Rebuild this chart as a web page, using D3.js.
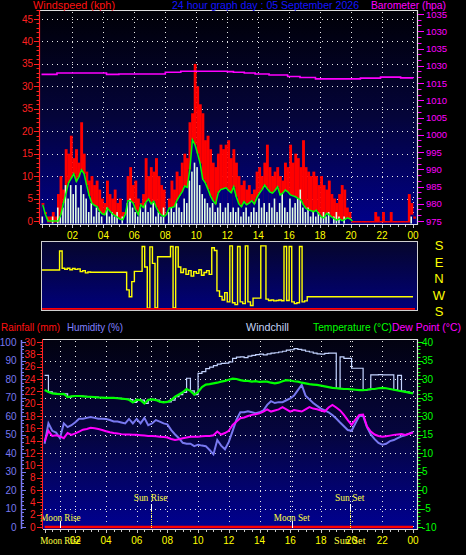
<!DOCTYPE html>
<html><head><meta charset="utf-8">
<script src="https://cdn.jsdelivr.net/npm/d3@7"></script>
<style>body{margin:0;background:#000;}svg{display:block;}</style>
</head><body><svg width="466" height="555"></svg>
<script>
// ---------- DATA ----------
const hourTickValues = [2,4,6,8,10,12,14,16,18,20,22,24];
const hourLabels = ["02","04","06","08","10","12","14","16","18","20","22","00"];
const windTickValues = [0,5,10,15,20,25,30,35,40,45];
const windTickLabels = ["0","5","10","15","20","35","30","35","40","45"];
const baroTickValues = [975,980,985,990,995,1000,1005,1010,1015,1020,1025,1030,1035];
const baroTickLabels = ["975","980","985","990","995","1000","1005","1010","1015","1030","1035","1030","1035"];
const rainTickValues = [0,2,4,6,8,10,12,14,16,18,20,22,24,26,28,30];
const rainTickLabels = ["0","2","4","6","8","10","12","14","16","18","20","22","24","26","38","30"];
const humTickValues = [0,10,20,30,40,50,60,70,80,90,100];
const tempTickValues = [-10,-5,0,5,10,15,20,25,30,35,40];
const tempTickLabels = ["-10","-5","0","5","10","15","30","35","30","35","40"];
const dirLabels = ["S","E","N","W","S"];
const dirLabelPos = [0,90,180,270,360];

// wind, 10-minute samples (kph)
const gust = [4,2,1,1,2,1, 6,10,7,16,15,19, 14,16,13,22,15,11, 9,10,8,9,7,5, 4,9,6,5,7,4,
  5,2,2,10,12,8, 9,5,4,6,14,10, 12,11,14,10,8,7, 1,5,9,7,11,10, 13,15,14,22,24,35,
  30,26,24,18,19,16, 13,12,15,17,16,17, 18,14,16,13,10,8, 9,7,8,6,7,11, 12,10,13,17,12,10,
  11,12,10,9,13,12, 17,13,15,14,12,18, 12,11,10,11,10,8, 10,8,7,9,6,5, 4,6,8,7,3,2,
  0,0,0,0,0,0, 0,0,0,2,1,0, 2,0,0,2,0,0, 0,0,0,0,6,4, 1];
const speed = [1,0,0,0,1,0, 3,1,3,8,5,8, 6,8,3,8,6,5, 2,4,1,3,2,1, 0,3,1,2,1,2,
  0,1,0,4,5,3, 2,1,3,2,4,2, 3,4,1,2,1,3, 0,2,3,2,4,3, 2,5,4,9,11,13,
  12,8,6,5,4,3, 4,2,3,4,2,3, 4,2,3,2,3,1, 2,3,1,2,3,2, 5,3,4,2,4,3,
  5,2,4,6,3,2, 5,3,4,5,7,3, 2,3,1,2,1,2, 1,2,1,2,0,1, 2,1,0,1,0,0,
  0,0,0,0,0,0, 0,0,0,0,0,0, 0,0,0,0,0,0, 0,0,0,0,0,1, 0];
const avgSpeed = [3.6,1.5,0,0,0,0, 0,1.4,4,6.2,8.5,9.5, 10.5,8.8,9.8,11.4,10.5,8, 5.6,4,3.5,3.2,2.2,1.6, 1.4,2.9,2.2,1.6,1.2,0.8,
  0.4,0.3,1.5,4.5,4.5,4, 2.5,1.4,3.6,3,4.2,4.9, 3.8,4.4,3,1.9,1.3,1.0, 1.5,2.9,3.0,3.2,4.6,5.6, 6.5,7.8,7.5,11.5,18.1,17,
  15,12.8,9.3,8.5,7.1,5.6, 4.5,3.8,6.3,7,7.2,7.4, 6.8,6.3,7.6,5.4,3.8,3.2, 4.3,3.6,4.0,4.5,3.8,5.2, 6.2,7.0,8.0,7.2,6.5,6.2,
  6.8,7.6,5.8,6.2,6.9,6.5, 5.8,5.6,5.4,5.0,4.7,3.6, 2.8,2.5,2.3,2.1,2.4,1.6, 0.9,0.7,1.7,1.4,0.9,0.5, 0.2,0.5,0.1,0.3,0.7,0.5,
  0,0,0,0,0,0, 0,0,0,0,0,0, 0,0,0,0,0,0, 0,0,0,0,0,1.4, 0.5];
// wind direction, 10-minute samples (degrees)
const windDir = [44,44,44,44,44,44, 44,147,53,48,53,45, 52,47,50,35,40,28, 33,31,31,31,31,31, 31,31,31,31,31,31,
  31,31,31,295,258,340, 36,36,36,172,60,195, 170,80,196,116,116,116, 116,116,172,196,170,60, 30,50,20,40,10,35,
  25,45,15,30,40,20, 165,150,290,260,240,280, 230,175,225,215,172,230, 220,175,230,210,250,250, 250,175,175,245,237,240,
  235,237,240,236,172,237, 172,230,220,225,172,230, 235,258,258,258,258,258, 258,258,258,258,258,258, 258,258,258,258,258,258,
  258,258,258,258,258,258, 258,258,258,258,258,258, 258,258,258,258,258,258, 258,258,258,258,258,258, 258];
// barometer (hPa)
const baroHours = [0,1,3,4.2,5,7,8,9,10,11,12,12.4,13.1,13.8,14.7,15.9,16.7,17.7,19.3,20.6,21.9,23.2,24];
const baroValues = [1017.5,1017.9,1017.9,1017.5,1017.6,1017.6,1018.1,1018.4,1018.4,1018.4,1018.3,1018.1,1017.9,1017.6,1017.3,1016.9,1016.6,1016.2,1016.2,1016.4,1016.7,1016.5,1016.4];

// bottom panel, 15-minute samples
const temperature = [27.0,26.5,26.1,26.0, 25.9,26.0,25.1,25.3, 25.4,25.4,25.3,25.2, 25.2,25.1,25.0,24.95, 24.9,24.9,24.9,24.8,
  24.7,24.6,24.4,23.7, 24.4,24.3,23.4,24.4, 24.5,24.3,23.9,23.7, 23.8,24.3,25.2,25.8, 26.4,27.3,26.8,25.8,
  26.5,27.8,28.5,28.6, 28.8,29.0,29.3,29.5, 29.8,30.1,30.0,29.7, 29.5,29.5,29.3,29.4, 29.2,29.3,29.3,29.0,
  28.8,29.0,29.4,29.7, 29.6,29.4,29.3,29.0, 28.8,28.6,28.5,28.4, 28.2,28.0,27.8,27.6, 27.5,27.4,27.3,27.3,
  27.2,27.1,27.0,27.0, 27.1,27.3,27.3,27.5, 27.6,27.5,27.3,27.1, 26.9,26.7,26.5,26.3, 26.1];
const windchill = [31.0,26.5,26.1,26.0, 25.9,26.0,25.1,25.3, 25.4,25.4,25.3,25.2, 25.2,25.1,25.0,24.95, 24.9,24.9,24.9,24.8,
  24.7,24.6,24.4,23.7, 24.4,24.3,23.4,24.4, 24.5,24.3,23.9,23.7, 23.8,24.3,25.2,25.8, 26.4,30.2,26.8,25.8,
  31.5,32.0,32.8,33.2, 33.6,34.0,34.2,34.3, 34.6,35.6,35.9,36.0, 35.8,36.2,36.4,36.6, 36.7,36.5,36.8,37.0,
  37.1,37.3,37.5,37.8, 37.9,38.2,38.0,37.8, 37.5,37.3,37.0,36.8, 36.7,36.9,37.0,37.0, 27.5,36.0,35.6,35.6,
  32.9,32.9,32.9,27.0, 27.1,31.1,31.1,31.2, 31.1,31.1,31.1,27.1, 31.0,26.7,26.5,26.3, 26.1];
const humidity = [45,56,52,51, 48,56,54,55, 56.6,58.5,58.5,59, 59.5,59,58.5,58.5, 58.4,57.8,57,57,
  56.5,56,58.4,56, 58.4,56,59,55, 56,57.8,57,56, 55.5,52.4,50,48, 45.5,45,45,43.7,
  44.5,44,43.7,41.6, 39.3,47,44,42, 46,52,58,62, 62,62.5,62,61.5, 62,63,66,68,
  67,67.5,67.5,68.5, 69.5,71,74,76.8, 71,69,67,65.5, 64,63,62,60.5, 58.6,56.5,54.5,52.4,
  52,56,60,60, 54,50,47.5,45.4, 44.5,45,46.4,47, 48,49,49.6,50.5, 51.4];
const dewPoint = [13.1,16.0,14.6,14.8, 14.5,14.0,15.4,14.9, 15.3,15.8,16.3,16.5, 16.8,16.7,16.5,16.2, 15.9,15.6,15.4,15.3,
  15.1,15.0,15.0,14.9, 14.9,14.8,14.7,14.6, 14.6,14.5,14.4,14.3, 14.2,13.8,13.5,13.7, 14.0,14.2,14.4,14.4,
  14.4,14.5,14.6,14.6, 14.8,15.8,15.0,15.4, 16.0,17.6,18.5,19.4, 19.6,20.0,20.3,20.5, 20.7,21.2,21.8,21.2,
  21.5,21.8,22.4,21.8, 21.2,21.6,21.4,21.2, 21.8,22.4,22.0,21.8, 21.5,21.2,22.3,23.0, 22.3,21.5,20.3,18.9,
  17.6,19.0,20.3,20.4, 17.2,15.8,15.0,14.6, 14.4,14.5,14.7,14.9, 15.0,15.1,14.9,15.2, 15.5];
const rainfallHours = [0,24];
const rainfall = [0,0];
const eventNames = ["Moon Rise","Sun Rise","Moon Set","Sun Set"];
const eventHours = [1.03,6.9,16.1,19.88];
const eventIsSun = [false,true,false,true];
const bottomEventLabels = ["Moon Rise","Sun Set"];
const bottomEventHours = [1.03,19.88];

// ---------- DRAW ----------
const svg = d3.select("svg");
const defs = svg.append("defs");
function grad(id, stops){
  const g = defs.append("linearGradient").attr("id",id).attr("x1",0).attr("y1",0).attr("x2",0).attr("y2",1);
  stops.forEach(([o,c])=>g.append("stop").attr("offset",o).attr("stop-color",c));
}
grad("gTop",[[0,"#000006"],[0.5,"#04043a"],[1,"#00008a"]]);
grad("gMid",[[0,"#06062a"],[1,"#00007c"]]);
grad("gBot",[[0,"#020210"],[0.5,"#05053e"],[1,"#000092"]]);
svg.append("rect").attr("width",466).attr("height",555).attr("fill","#000");

const FONT = "'Liberation Sans Narrow','Liberation Sans',Arial,sans-serif";
function txt(x,y,s,color,opt={}){
  const t = svg.append("text").attr("x",x).attr("y",y).text(s).attr("fill",color)
    .attr("font-family",opt.family||FONT).attr("font-size",opt.size||10)
    .attr("text-anchor",opt.anchor||"start");
  if(opt.len){ t.attr("textLength",opt.len).attr("lengthAdjust","spacingAndGlyphs"); }
  return t;
}
const dotted = s => s.attr("stroke","#e8e8e8").attr("stroke-width",1).attr("stroke-dasharray","1,4");

// ===== TOP PANEL =====
const T = {l:40,r:418,t:10,b:224};
const xTop = d3.scaleLinear().domain([0,24]).range([41.5,413]);
const yWind = d3.scaleLinear().domain([0,45]).range([221,19]);
const yBaro = d3.scaleLinear().domain([975,1035]).range([221,14]);
svg.append("rect").attr("x",T.l).attr("y",T.t).attr("width",T.r-T.l).attr("height",T.b-T.t).attr("fill","url(#gTop)");

const gGrid = svg.append("g");
gGrid.selectAll("line.h").data(windTickValues.filter(v=>v>0)).join("line")
  .attr("x1",T.l+2).attr("x2",T.r).attr("y1",d=>Math.round(yWind(d))+0.5).attr("y2",d=>Math.round(yWind(d))+0.5).call(dotted);
gGrid.selectAll("line.v").data(hourTickValues).join("line")
  .attr("x1",d=>Math.round(xTop(d))+0.5).attr("x2",d=>Math.round(xTop(d))+0.5).attr("y1",T.t+2).attr("y2",T.b).call(dotted);

const step10 = 1/6;
const bw = xTop(step10)-xTop(0);
const gW = svg.append("g");
gW.selectAll("rect.g").data(gust).join("rect")
  .attr("x",(d,i)=>xTop(i*step10)).attr("width",bw+0.3)
  .attr("y",d=>yWind(d)).attr("height",d=>yWind(0)+1.5-yWind(d)).attr("fill","#ff0000");
gW.selectAll("rect.a").data(avgSpeed).join("rect")
  .attr("x",(d,i)=>xTop(i*step10)).attr("width",bw+0.3)
  .attr("y",d=>yWind(d)).attr("height",d=>Math.max(0,yWind(0)+2.5-yWind(d))).attr("fill","#000080")
  .attr("display",d=>d>0?null:"none");
gW.selectAll("rect.s").data(speed).join("rect")
  .attr("x",(d,i)=>xTop(i*step10)).attr("width",Math.max(1,bw-1))
  .attr("y",d=>yWind(d)).attr("height",d=>yWind(0)+2.5-yWind(d)).attr("fill","#e4ffe4")
  .attr("display",d=>d>0?null:"none");
svg.append("path").datum(avgSpeed.slice(0,121)).attr("fill","none").attr("stroke","#00ff00").attr("stroke-width",1.5)
  .attr("d",d3.line().x((d,i)=>xTop(i*step10)+bw/2).y(d=>yWind(d)));
svg.append("path").datum(baroValues).attr("fill","none").attr("stroke","#ff00ff").attr("stroke-width",1.6)
  .attr("d",d3.line().curve(d3.curveStepAfter).x((d,i)=>xTop(baroHours[i])).y(d=>yBaro(d)));

// borders
svg.append("path").attr("d",`M${T.l},${T.t+0.5}H${T.r-0.5}V${T.b+0.5}H${T.l}`).attr("fill","none").attr("stroke","#e0e0e0").attr("stroke-width",1.2);
// wind axis
svg.append("line").attr("x1",39.5).attr("x2",39.5).attr("y1",T.t).attr("y2",T.b).attr("stroke","#ff2020").attr("stroke-width",1.2);
const windMinor = d3.range(0,48,1);
svg.append("g").selectAll("line").data(windMinor).join("line")
  .attr("x1",d=>d%5===0?34:36.5).attr("x2",39.5).attr("y1",d=>Math.round(yWind(d))+0.5).attr("y2",d=>Math.round(yWind(d))+0.5)
  .attr("stroke","#ff2020").attr("stroke-width",1);
windTickValues.forEach((v,i)=>txt(33,yWind(v)+3.5,windTickLabels[i],"#ff2020",{anchor:"end",size:10}));
// baro axis
const baroMinor = d3.range(0,37).map(k=>975+k*5/3);
svg.append("g").selectAll("line").data(baroMinor).join("line")
  .attr("x1",418).attr("x2",(d,i)=>i%3===0?424:421.5).attr("y1",d=>Math.round(yBaro(d))+0.5).attr("y2",d=>Math.round(yBaro(d))+0.5)
  .attr("stroke","#ff00ff").attr("stroke-width",1);
baroTickValues.forEach((v,i)=>txt(426,yBaro(v)+3.5,baroTickLabels[i],"#ff00ff",{size:9.5}));
// x ticks
svg.append("g").selectAll("line").data(d3.range(0,24.01,0.5)).join("line")
  .attr("x1",d=>Math.round(xTop(d))+0.5).attr("x2",d=>Math.round(xTop(d))+0.5).attr("y1",T.b+1).attr("y2",d=>d%2===0?T.b+4:T.b+3)
  .attr("stroke","#c8c8c8");
hourTickValues.forEach((v,i)=>txt(xTop(v),238.5,hourLabels[i],"#ffff00",{anchor:"middle",size:10}));
// titles
txt(33,9,"Windspeed (kph)","#ff1010",{size:10.5,len:82});
txt(172,9,"24 hour graph day : 05 September 2026","#1414ff",{size:10.5,len:187});
txt(371,9,"Barometer (hpa)","#ff00ff",{size:10.5,len:75});

// ===== MIDDLE PANEL =====
const M = {l:41,r:418,t:241,b:311};
const yDir = d3.scaleLinear().domain([0,360]).range([245,311]);
const rot = d => ((180-d)%360+360)%360;
svg.append("rect").attr("x",M.l).attr("y",M.t).attr("width",M.r-M.l).attr("height",M.b-M.t).attr("fill","url(#gMid)");
svg.append("path").datum(windDir).attr("fill","none").attr("stroke","#ffff00").attr("stroke-width",1.4)
  .attr("d",d3.line().curve(d3.curveStepAfter).x((d,i)=>xTop(i*step10)).y(d=>yDir(rot(d))));
svg.append("line").attr("x1",xTop(0)).attr("x2",xTop(24)+2).attr("y1",308.8).attr("y2",308.8).attr("stroke","#ff0000").attr("stroke-width",1.8);
svg.append("rect").attr("x",M.l+0.5).attr("y",M.t+0.5).attr("width",M.r-M.l-1).attr("height",M.b-M.t-1)
  .attr("fill","none").attr("stroke","#d0d0d0").attr("stroke-width",1);
dirLabels.forEach((s,i)=>txt(439,yDir(dirLabelPos[i])+5,s,"#ffff00",{anchor:"middle",size:13,family:"'Liberation Sans',Arial,sans-serif"}));

// ===== BOTTOM PANEL =====
const B = {l:43,r:418,t:339,b:529};
const xBot = d3.scaleLinear().domain([0,24]).range([44.6,413]);
const yHum = d3.scaleLinear().domain([0,100]).range([527,342]);
const yTemp = d3.scaleLinear().domain([-10,40]).range([527,342]);
const yRain = d3.scaleLinear().domain([0,30]).range([527,342]);
svg.append("rect").attr("x",B.l).attr("y",B.t).attr("width",B.r-B.l).attr("height",B.b-B.t).attr("fill","url(#gBot)");
const gG2 = svg.append("g");
gG2.selectAll("line.h").data(humTickValues.filter(v=>v>0&&v<100)).join("line")
  .attr("x1",B.l+2).attr("x2",B.r).attr("y1",d=>Math.round(yHum(d))+0.5).attr("y2",d=>Math.round(yHum(d))+0.5).call(dotted);
gG2.selectAll("line.v").data(hourTickValues.concat(eventHours)).join("line")
  .attr("x1",d=>Math.round(xBot(d))+0.5).attr("x2",d=>Math.round(xBot(d))+0.5).attr("y1",B.t+2).attr("y2",B.b).call(dotted);

const step15 = 0.25;
const lineB = (sc) => d3.line().x((d,i)=>xBot(i*step15)).y(d=>sc(d));
svg.append("path").datum(windchill).attr("fill","none").attr("stroke","#c4d4ff").attr("stroke-width",1.2)
  .attr("d",d3.line().curve(d3.curveStepAfter).x((d,i)=>xBot(i*step15)).y(d=>yTemp(d)));
svg.append("path").datum(humidity).attr("fill","none").attr("stroke","#7878f0").attr("stroke-width",2)
  .attr("d",lineB(yHum));
svg.append("path").datum(dewPoint).attr("fill","none").attr("stroke","#ff00ff").attr("stroke-width",2)
  .attr("d",lineB(yTemp));
svg.append("path").datum(temperature).attr("fill","none").attr("stroke","#00ff00").attr("stroke-width",2.2)
  .attr("d",lineB(yTemp));
svg.append("path").datum(rainfall).attr("fill","none").attr("stroke","#ff0000").attr("stroke-width",2.5)
  .attr("d",d3.line().x((d,i)=>xBot(rainfallHours[i])).y(d=>yRain(d)));

// events
eventNames.forEach((name,i)=>{
  const x = Math.round(xBot(eventHours[i]))+0.5;
  if(eventIsSun[i]){
    svg.append("line").attr("x1",x).attr("x2",x).attr("y1",504).attr("y2",511).attr("stroke","#ffffff").attr("stroke-width",1);
    svg.append("line").attr("x1",x).attr("x2",x).attr("y1",511).attr("y2",529).attr("stroke","#ffff40").attr("stroke-width",1).attr("stroke-dasharray","1,1");
    txt(xBot(eventHours[i]),501,name,"#ffff40",{anchor:"middle",size:11,family:"'Liberation Serif',serif",len:name.length*4.2});
  } else {
    svg.append("line").attr("x1",x).attr("x2",x).attr("y1",521).attr("y2",528).attr("stroke","#ffffff").attr("stroke-width",1);
    txt(xBot(eventHours[i]),520.5,name,"#ffff40",{anchor:"middle",size:11,family:"'Liberation Serif',serif",len:name.length*4.5});
  }
});

// border
svg.append("path").attr("d",`M${B.l},${B.t+0.5}H${B.r-0.5}V${B.b+0.5}H${B.l}`).attr("fill","none").attr("stroke","#e0e0e0").attr("stroke-width",1.2);
// rainfall axis
svg.append("line").attr("x1",42.5).attr("x2",42.5).attr("y1",B.t).attr("y2",B.b).attr("stroke","#ff2020");
svg.append("g").selectAll("line").data(d3.range(0,30.01,0.5)).join("line")
  .attr("x1",d=>d%2===0?37:40.5).attr("x2",42.5).attr("y1",d=>Math.round(yRain(d))+0.5).attr("y2",d=>Math.round(yRain(d))+0.5)
  .attr("stroke","#ff2020").attr("stroke-width",1);
rainTickValues.forEach((v,i)=>txt(35.5,yRain(v)+3.5,rainTickLabels[i],"#ff2020",{anchor:"end",size:10}));
// humidity axis
svg.append("line").attr("x1",21.5).attr("x2",21.5).attr("y1",340).attr("y2",B.b).attr("stroke","#7878f0").attr("stroke-width",1.5);
svg.append("g").selectAll("line").data(d3.range(0,100.1,2)).join("line")
  .attr("x1",21.5).attr("x2",d=>d%10===0?26:24).attr("y1",d=>Math.round(yHum(d))+0.5).attr("y2",d=>Math.round(yHum(d))+0.5)
  .attr("stroke","#7878f0").attr("stroke-width",1);
humTickValues.forEach(v=>txt(16.5,yHum(v)+3.5,String(v),"#7878f0",{anchor:"end",size:10}));
// temperature axis
svg.append("g").selectAll("line").data(d3.range(-10,40.1,1)).join("line")
  .attr("x1",418).attr("x2",d=>d%5===0?423:420.5).attr("y1",d=>Math.round(yTemp(d))+0.5).attr("y2",d=>Math.round(yTemp(d))+0.5)
  .attr("stroke","#00ff00").attr("stroke-width",1);
tempTickValues.forEach((v,i)=>txt(422,yTemp(v)+3.5,tempTickLabels[i],"#00ff00",{size:10}));
// bottom x axis
svg.append("g").selectAll("line").data(d3.range(0,24.01,0.5)).join("line")
  .attr("x1",d=>Math.round(xBot(d))+0.5).attr("x2",d=>Math.round(xBot(d))+0.5).attr("y1",B.b+1).attr("y2",d=>d%2===0?B.b+4:B.b+3)
  .attr("stroke","#c8c8c8");
bottomEventLabels.forEach((s,i)=>txt(xBot(bottomEventHours[i]),544,s,"#ffff40",{anchor:"middle",size:11,family:"'Liberation Serif',serif",len:s.length*4.5}));
hourTickValues.forEach((v,i)=>txt(xBot(v),544,hourLabels[i],"#ffff00",{anchor:"middle",size:10}));
// headers
txt(1,331,"Rainfall (mm)","#ff1010",{size:11,len:59});
txt(67,331,"Humidity (%)","#8080ff",{size:11,len:56});
txt(246,331,"Windchill","#c4d4f4",{size:11,len:43});
txt(313,331,"Temperature (°C)","#00ff00",{size:11,len:79});
txt(392,331,"Dew Point (°C)","#ff00ff",{size:11,len:69});
</script></body></html>
